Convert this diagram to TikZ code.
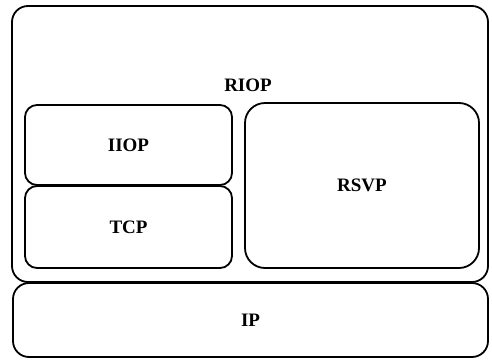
\documentclass[tikz,border=0pt]{standalone}
\usepackage{fontspec}
\setmainfont{Liberation Serif}
\usepackage{tikz}

\tikzset{
    layer/.style={draw, line width=1.8pt, rounded corners=#1, inner sep=0pt},
    layer/.default=12pt,
    name text/.style={font=\fontsize{19}{21}\selectfont\bfseries}
}

\begin{document}
\begin{tikzpicture}[x=1pt, y=-1pt]
    \useasboundingbox (0,0) rectangle (492,362);
    % outer boxes
    \node[layer=16pt, minimum width=476pt, minimum height=276pt] (riop) at (250,144) {};
    \node[name text] (riop label) at (248,85) {RIOP};
    \node[layer=16pt, minimum width=475pt, minimum height=74pt, name text] (ip) at (250.5,320) {IP};
    % inner boxes
    \node[layer, minimum width=207pt, minimum height=80pt, name text] (iiop) at (128.5,145) {IIOP};
    \node[layer, minimum width=207pt, minimum height=82pt, name text] (tcp) at (128.5,227) {TCP};
    \node[layer=20pt, minimum width=234pt, minimum height=165pt, name text] (rsvp) at (362,185.5) {RSVP};
\end{tikzpicture}
\end{document}
